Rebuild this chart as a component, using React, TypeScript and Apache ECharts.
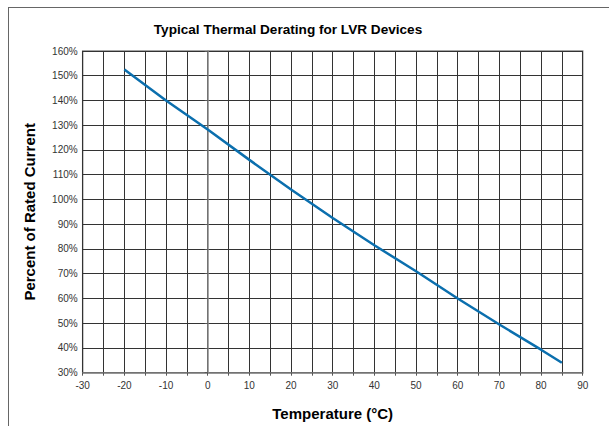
import React, { useEffect, useRef } from "react";
import * as echarts from "echarts";

const temperatures = [-20, -10, 0, 10, 20, 30, 40, 50, 60, 70, 80, 85];
const percentRated = [152.5, 140, 128.3, 116, 104, 92.5, 81.5, 71, 60, 49.5, 39.3, 34];
const titleText = "Typical Thermal Derating for LVR Devices";
const xTitle = "Temperature (°C)";
const yTitle = "Percent of Rated Current";

export default function App() {
  const ref = useRef<HTMLDivElement>(null);
  useEffect(() => {
    if (!ref.current) return;
    const chart = echarts.init(ref.current, null, { renderer: "svg" });
    const font = "Liberation Sans, Arial, Helvetica, sans-serif";
    chart.setOption({
      animation: false,
      backgroundColor: "#ffffff",
      textStyle: { fontFamily: font },
      title: {
        text: titleText,
        left: 283,
        top: 17,
        textAlign: "center",
        textStyle: { fontSize: 13.6, fontWeight: "bold", color: "#000", fontFamily: font },
      },
      graphic: [
        { type: "line", shape: { x1: 8, y1: 7.5, x2: 609, y2: 7.5 }, style: { stroke: "#666", lineWidth: 1 } },
        { type: "line", shape: { x1: 8.5, y1: 7, x2: 8.5, y2: 426 }, style: { stroke: "#666", lineWidth: 1 } },
      ],
      grid: {
        left: 82.7,
        right: 26.3,
        top: 51,
        bottom: 53.3,
        show: true,
        borderColor: "#888",
        borderWidth: 1.5,
      },
      xAxis: {
        type: "value",
        min: -30,
        max: 90,
        interval: 5,
        name: xTitle,
        nameLocation: "middle",
        nameGap: 33,
        nameTextStyle: { fontSize: 15, fontWeight: "bold", color: "#000", fontFamily: font },
        axisLine: { show: true, lineStyle: { color: "#888", width: 1.5 } },
        axisTick: { show: true, length: 3, lineStyle: { color: "#555" } },
        axisLabel: {
          fontSize: 10,
          color: "#333",
          margin: 8,
          formatter: (v: number) => (v % 10 === 0 ? String(v) : ""),
        },
        splitLine: { show: true, lineStyle: { color: "#333", width: 1 } },
      },
      yAxis: {
        type: "value",
        min: 30,
        max: 160,
        interval: 10,
        name: yTitle,
        nameLocation: "middle",
        nameGap: 46,
        nameTextStyle: { fontSize: 15, fontWeight: "bold", color: "#000", fontFamily: font },
        axisLine: { show: true, lineStyle: { color: "#888", width: 1.5 } },
        axisTick: { show: true, length: 3, lineStyle: { color: "#555" } },
        axisLabel: { fontSize: 10, color: "#333", margin: 5, formatter: "{value}%" },
        splitLine: { show: true, lineStyle: { color: "#333", width: 1 } },
      },
      series: [
        {
          type: "line",
          data: temperatures.map((t, i) => [t, percentRated[i]]),
          symbol: "none",
          lineStyle: { color: "#0b6fae", width: 2.5 },
        },
      ],
    });
    return () => chart.dispose();
  }, []);
  return (
    <div
      ref={ref}
      style={{ position: "fixed", left: 0, top: 0, width: 609, height: 426 }}
    />
  );
}
